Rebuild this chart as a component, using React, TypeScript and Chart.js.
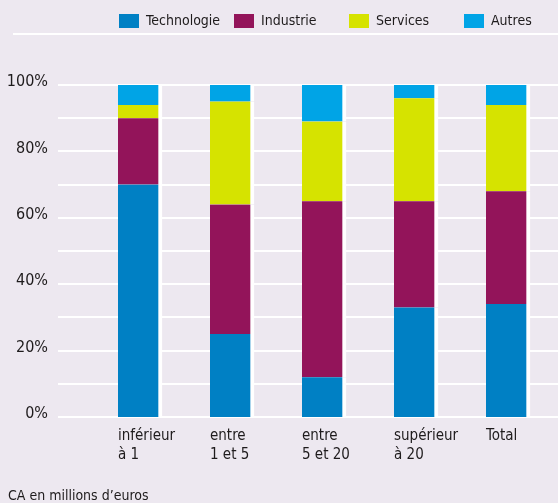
import React, { useEffect, useRef } from "react";
import { Chart, registerables } from "chart.js";

Chart.register(...registerables);

// ---- data ----
const categories: string[][] = [
  ["inférieur", "à 1"],
  ["entre", "1 et 5"],
  ["entre", "5 et 20"],
  ["supérieur", "à 20"],
  ["Total"],
];
const technologie = [70, 25, 12, 33, 34];
const industrie = [20, 39, 53, 32, 34];
const services = [4, 31, 24, 31, 26];
const autres = [6, 5, 11, 4, 6];
const seriesNames = ["Technologie", "Industrie", "Services", "Autres"];
const seriesColors = ["#0080C4", "#93145A", "#D6E300", "#00A4E6"];
const yTickLabels = [0, 20, 40, 60, 80, 100];
const gridValues = [0, 10, 20, 30, 40, 50, 60, 70, 80, 90, 100];
const axisTitle = "CA en millions d’euros";

const FONT = '"DejaVu Sans Condensed", "DejaVu Sans", sans-serif';
const TEXT = "#1E1B1C";
const BG = "#EDE8F0";

const gridPlugin = {
  id: "customGrid",
  beforeDatasetsDraw(chart: any) {
    const { ctx } = chart;
    const y = chart.scales.y;
    ctx.save();
    ctx.fillStyle = "#FFFFFF";
    gridValues.forEach((v) => {
      const py = Math.round(y.getPixelForValue(v));
      ctx.fillRect(58, py - 1, chart.width - 58, 2);
    });
    ctx.fillRect(13, 33, chart.width - 13, 2);
    ctx.restore();
  },
};

const legendPlugin = {
  id: "customLegend",
  afterDraw(chart: any) {
    const { ctx } = chart;
    ctx.save();
    ctx.font = `14px ${FONT}`;
    ctx.textBaseline = "middle";
    ctx.textAlign = "left";
    chart.data.datasets.forEach((ds: any, i: number) => {
      const x = 119 + i * 115;
      ctx.fillStyle = ds.backgroundColor;
      ctx.fillRect(x, 14, 20, 14);
      ctx.fillStyle = TEXT;
      ctx.fillText(ds.label, x + 27, 21);
    });
    ctx.restore();
  },
};

export default function App() {
  const ref = useRef<HTMLCanvasElement | null>(null);

  useEffect(() => {
    if (!ref.current) return;
    const values = [technologie, industrie, services, autres];
    const chart = new Chart(ref.current, {
      type: "bar",
      data: {
        labels: categories,
        datasets: values.map((d, i) => ({
          label: seriesNames[i],
          data: d,
          backgroundColor: seriesColors[i],
          borderColor: "#FFFFFF",
          borderWidth: { top: 0, right: 4, bottom: 0, left: 0 },
          borderSkipped: false,
          barThickness: 44,
        })),
      },
      options: {
        animation: false,
        responsive: false,
        maintainAspectRatio: false,
        layout: { padding: { left: 8, right: 4, top: 85, bottom: 0 } },
        plugins: {
          legend: { display: false },
          tooltip: { enabled: false },
          title: {
            display: true,
            text: axisTitle,
            position: "bottom",
            align: "start",
            color: TEXT,
            font: { family: FONT, size: 14, weight: "normal", lineHeight: 1.0 },
            padding: { top: 0, bottom: 0 },
          },
        },
        scales: {
          x: {
            stacked: true,
            grid: { display: false, drawTicks: false },
            border: { display: false },
            ticks: {
              align: "start",
              labelOffset: -22,
              padding: 9,
              maxRotation: 0,
              autoSkip: false,
              color: TEXT,
              font: { family: FONT, size: 15, lineHeight: 1.3 },
            },
            afterFit: (s: any) => {
              s.height = 503 - 14 - 417;
            },
          },
          y: {
            stacked: true,
            min: 0,
            max: 100,
            grid: { display: false, drawTicks: false },
            border: { display: false },
            ticks: {
              stepSize: 10,
              padding: 46,
              labelOffset: -3,
              color: TEXT,
              font: { family: FONT, size: 16 },
              callback: (v: any) => (yTickLabels.includes(Number(v)) ? `${v}%` : ""),
            },
            afterFit: (s: any) => {
              s.width = 86;
            },
          },
        },
      },
      plugins: [gridPlugin, legendPlugin],
    });
    return () => chart.destroy();
  }, []);

  return (
    <div style={{ position: "fixed", left: 0, top: 0, width: 558, height: 503, background: BG }}>
      <canvas ref={ref} width={558} height={503} style={{ display: "block", width: 558, height: 503 }} />
    </div>
  );
}
